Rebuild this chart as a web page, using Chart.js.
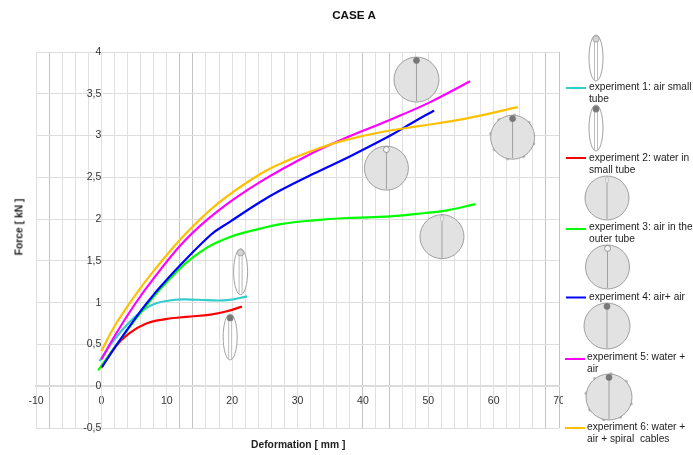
<!DOCTYPE html>
<html>
<head>
<meta charset="utf-8">
<title>CASE A</title>
<script src="https://cdn.jsdelivr.net/npm/chart.js@4/dist/chart.umd.min.js"></script>
<style>
  html, body { margin: 0; padding: 0; background: #fff; }
  #wrap { position: relative; width: 693px; height: 455px; overflow: hidden; font-family: "Liberation Sans", Arial, sans-serif; }
  canvas { position: absolute; left: 0; top: 0; }
  .txt { position: absolute; color: #222; white-space: nowrap; }
  .axis { font-size: 10.3px; font-weight: bold; color: #222; }
  .leg { font-size: 10.2px; line-height: 11.5px; color: #222; }
</style>
</head>
<body>
<div id="wrap">
  <canvas id="forceChart" width="693" height="455"></canvas>
  <div class="txt" style="left:354px;top:14px;transform:translate(-50%,-50%);font-size:11.7px;font-weight:bold;color:#111;">CASE A</div>
  <div class="txt axis" style="left:251px;top:439px;">Deformation [ mm ]</div>
  <div class="txt axis" style="left:19px;top:227px;transform:translate(-50%,-50%) rotate(-90deg);">Force [ kN ]</div>
  <div class="txt leg" style="left:589px;top:81px;">experiment 1: air small<br>tube</div>
  <div class="txt leg" style="left:589px;top:152px;">experiment 2: water in<br>small tube</div>
  <div class="txt leg" style="left:589px;top:221px;">experiment 3: air in the<br>outer tube</div>
  <div class="txt leg" style="left:589px;top:291px;">experiment 4: air+ air</div>
  <div class="txt leg" style="left:587px;top:351px;">experiment 5: water +<br>air</div>
  <div class="txt leg" style="left:587px;top:421px;">experiment 6: water +<br>air + spiral&nbsp; cables</div>
</div>
<script>
// Values: deformation [mm], force [kN]
const air1X = [-0.3, 1.6, 4.2, 6.2, 8.3, 11.3, 13, 16.2, 19.2, 22.3];
const air1Y = [0.30, 0.52, 0.76, 0.90, 0.99, 1.035, 1.04, 1.03, 1.03, 1.075];
const water2X = [0, 2.1, 4.2, 6.7, 9.6, 13, 16.7, 19.2, 21.5];
const water2Y = [0.22, 0.47, 0.63, 0.745, 0.80, 0.83, 0.857, 0.897, 0.953];
const airOuter3X = [-0.5, 2.65, 5.7, 10.5, 15.1, 19.7, 24.3, 27.4, 32.5, 37.6, 44.2, 49.3, 52.9, 57.2];
const airOuter3Y = [0.19, 0.53, 0.85, 1.288, 1.606, 1.786, 1.886, 1.94, 1.985, 2.013, 2.033, 2.07, 2.105, 2.18];
const airAir4X = [0.1, 2.65, 6.7, 10.3, 16.7, 19.7, 24.3, 27.4, 32.5, 38, 44.2, 47.7, 50.9];
const airAir4Y = [0.23, 0.53, 0.97, 1.30, 1.81, 1.97, 2.205, 2.345, 2.545, 2.75, 3.0, 3.16, 3.30];
const waterAir5X = [0, 2.1, 5.2, 8, 12.6, 17.7, 24.3, 32.5, 37.6, 44.2, 50.3, 56.4];
const waterAir5Y = [0.32, 0.61, 0.99, 1.29, 1.73, 2.09, 2.445, 2.80, 2.98, 3.19, 3.40, 3.65];
const spiral6X = [0, 2.1, 5, 8, 12.6, 17.7, 24.3, 28.9, 33, 37, 42.7, 48.8, 55.9, 63.7];
const spiral6Y = [0.42, 0.73, 1.07, 1.38, 1.80, 2.18, 2.54, 2.715, 2.84, 2.94, 3.04, 3.115, 3.205, 3.34];

const seriesNames = ['experiment 1', 'experiment 2', 'experiment 3', 'experiment 4', 'experiment 5', 'experiment 6'];
const seriesColors = ['#33cccc', '#ff0000', '#00ff00', '#0000ff', '#ff00ff', '#ffc000'];
const seriesX = [air1X, water2X, airOuter3X, airAir4X, waterAir5X, spiral6X];
const seriesY = [air1Y, water2Y, airOuter3Y, airAir4Y, waterAir5Y, spiral6Y];

// Vertical lines that come out darker in the original
const darkLines = [-8, 12, 14, 40, 44, 68, 70];

const datasets = seriesNames.map((name, i) => ({
    label: name,
    data: seriesX[i].map((x, j) => ({ x: x, y: seriesY[i][j] })),
    borderColor: seriesColors[i],
    borderWidth: 2.2,
    pointRadius: 0,
    tension: 0.4,
    order: -i, // later experiments on top
    fill: false
}));

// Section sketches of the tubes
function drawNarrow(c, x, y, ballFill) {
    c.strokeStyle = '#8a8a8a';
    c.lineWidth = 0.8;
    c.fillStyle = '#fff';
    c.beginPath();
    c.ellipse(x, y, 7, 23, 0, 0, Math.PI * 2);
    c.fill();
    c.stroke();
    c.strokeStyle = '#aaa';
    c.beginPath();
    c.moveTo(x - 1.5, y - 18);
    c.lineTo(x - 1.5, y + 22);
    c.moveTo(x + 1.5, y - 18);
    c.lineTo(x + 1.5, y + 22);
    c.stroke();
    c.fillStyle = ballFill;
    c.strokeStyle = '#888';
    c.lineWidth = 0.6;
    c.beginPath();
    c.arc(x, y - 19, 3.2, 0, Math.PI * 2);
    c.fill();
    c.stroke();
}

function drawRound(c, x, y, r, ballFill, bumps) {
    c.fillStyle = '#e2e2e2';
    c.strokeStyle = '#8a8a8a';
    c.lineWidth = 0.8;
    if (bumps) {
        c.fillStyle = '#bdbdbd';
        for (let a = 0.3; a < 6.2; a += 0.75) {
            c.beginPath();
            c.arc(x + Math.cos(a) * r, y + Math.sin(a) * r, 1.8, 0, Math.PI * 2);
            c.fill();
        }
        c.fillStyle = '#e2e2e2';
    }
    c.beginPath();
    c.arc(x, y, r, 0, Math.PI * 2);
    c.fill();
    c.stroke();
    c.strokeStyle = '#a0a0a0';
    c.lineWidth = 1;
    c.beginPath();
    c.moveTo(x, y - r);
    c.lineTo(x, y + r - 1);
    c.stroke();
    if (ballFill === 'slit') {
        c.fillStyle = '#fff';
        c.strokeStyle = '#999';
        c.lineWidth = 0.6;
        c.beginPath();
        c.ellipse(x, y - r + 4, 1.2, 3.5, 0, 0, Math.PI * 2);
        c.fill();
        c.stroke();
    } else {
        c.fillStyle = ballFill;
        c.strokeStyle = '#777';
        c.lineWidth = 0.7;
        c.beginPath();
        c.arc(x, y - r + 3.4, 3, 0, Math.PI * 2);
        c.fill();
        c.stroke();
    }
}

// Sketches inside the plot sit under the curves, placed in chart units
const sketchPlugin = {
    id: 'sketches',
    beforeDatasetsDraw(chart) {
        const c = chart.ctx;
        const sx = chart.scales.x;
        const sy = chart.scales.y;
        c.save();
        drawNarrow(c, sx.getPixelForValue(21.3), sy.getPixelForValue(1.37), '#d4d4d4');
        drawNarrow(c, sx.getPixelForValue(19.7), sy.getPixelForValue(0.59), '#777');
        drawRound(c, sx.getPixelForValue(52.1), sy.getPixelForValue(1.79), 22, 'slit', false);
        drawRound(c, sx.getPixelForValue(43.6), sy.getPixelForValue(2.61), 22, '#f4f4f4', false);
        drawRound(c, sx.getPixelForValue(48.2), sy.getPixelForValue(3.67), 22.5, '#777', false);
        drawRound(c, sx.getPixelForValue(62.9), sy.getPixelForValue(2.98), 22, '#777', true);
        c.restore();
    },
    afterDraw(chart) {
        const c = chart.ctx;
        c.save();
        // the legend panel covers the end of the axis
        c.fillStyle = '#fff';
        c.fillRect(563, 392, 130, 20);
        drawNarrow(c, 596, 58, '#d4d4d4');
        drawNarrow(c, 596, 128, '#777');
        drawRound(c, 607, 198, 22, 'slit', false);
        drawRound(c, 607.5, 267, 22, '#f4f4f4', false);
        drawRound(c, 607, 326, 23, '#777', false);
        drawRound(c, 609, 397, 23, '#777', true);
        const keyY = [88, 158, 229, 297.5, 359, 428];
        const keyX = [566, 566, 566, 566, 565, 565];
        keyY.forEach((y, i) => {
            c.strokeStyle = seriesColors[i];
            c.lineWidth = 2;
            c.beginPath();
            c.moveTo(keyX[i], y);
            c.lineTo(keyX[i] + 20, y);
            c.stroke();
        });
        c.restore();
    }
};

new Chart(document.getElementById('forceChart').getContext('2d'), {
    type: 'line',
    data: { datasets: datasets },
    plugins: [sketchPlugin],
    options: {
        responsive: false,
        animation: false,
        layout: { padding: { left: 36, right: 134, top: 52, bottom: 27 } },
        plugins: {
            legend: { display: false },
            tooltip: { enabled: false }
        },
        scales: {
            x: {
                type: 'linear',
                min: -10,
                max: 70,
                position: { y: 0 },
                border: { color: '#dcdcdc', width: 2 },
                grid: {
                    drawTicks: false,
                    color: ctx => darkLines.includes(ctx.tick.value) ? '#c4c4c4' : '#e0e0e0'
                },
                ticks: {
                    stepSize: 2,
                    autoSkip: false,
                    maxRotation: 0,
                    padding: 9,
                    color: '#333',
                    font: { family: '"Liberation Sans"', size: 10.5 },
                    callback: v => v % 10 === 0 ? String(v) : ''
                }
            },
            y: {
                type: 'linear',
                min: -0.5,
                max: 4,
                position: { x: 0 },
                border: { color: '#e0e0e0', width: 1 },
                grid: { drawTicks: false, color: '#dedede' },
                ticks: {
                    stepSize: 0.5,
                    padding: 8,
                    color: '#333',
                    font: { family: '"Liberation Sans"', size: 10.5 },
                    callback: v => String(v).replace('.', ',')
                }
            }
        }
    }
});
</script>
</body>
</html>
